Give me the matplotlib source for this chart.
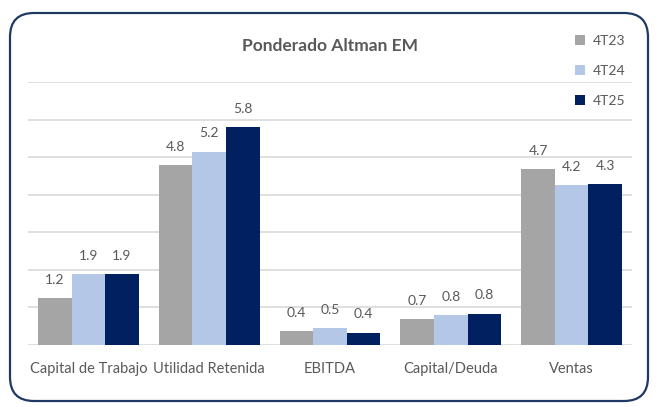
import matplotlib
matplotlib.use('Agg')
import numpy as np
import matplotlib.pyplot as plt
from matplotlib.patches import FancyBboxPatch

categories = ['Capital de Trabajo', 'Utilidad Retenida', 'EBITDA', 'Capital/Deuda', 'Ventas']
series = ['4T23', '4T24', '4T25']
v_4t23 = [1.2, 4.8, 0.4, 0.7, 4.7]
v_4t24 = [1.9, 5.2, 0.5, 0.8, 4.2]
v_4t25 = [1.9, 5.8, 0.4, 0.8, 4.3]
# heights as drawn (labels are rounded)
h_4t23 = [1.24, 4.78, 0.36, 0.68, 4.68]
h_4t24 = [1.88, 5.15, 0.45, 0.8, 4.25]
h_4t25 = [1.88, 5.8, 0.33, 0.83, 4.28]
colors = ['#A5A5A5', '#B4C7E7', '#002060']

plt.rcParams['font.family'] = ['Lato', 'DejaVu Sans']
txt = '#595959'

fig = plt.figure(figsize=(6.58, 4.07), dpi=100)

# rounded frame in pixel coords
bg = fig.add_axes([0, 0, 1, 1])
bg.set_xlim(0, 658)
bg.set_ylim(407, 0)
bg.axis('off')
bg.add_patch(FancyBboxPatch((10, 13), 638, 388, boxstyle='round,pad=0,rounding_size=24',
                            fc='white', ec='#1F3864', lw=1.6))

ax = fig.add_axes([28/658, 62/407, 604/658, 263/407])
ax.patch.set_alpha(0)
x = np.arange(len(categories))
w = 0.278
for i, (h, v) in enumerate([(h_4t23, v_4t23), (h_4t24, v_4t24), (h_4t25, v_4t25)]):
    bars = ax.bar(x + (i - 1) * w, h, w, color=colors[i], label=series[i], zorder=3)
    for b, val in zip(bars, v):
        ax.text(b.get_x() + b.get_width() / 2, b.get_height() + 0.33, f'{val:.1f}',
                ha='center', va='bottom', fontsize=10, color=txt)

ax.set_xlim(-0.5, len(categories) - 0.5)
ax.set_ylim(0, 7)
ax.set_yticks(np.arange(0, 8))
ax.yaxis.grid(True, color='#D9D9D9', lw=1.2, zorder=0)
ax.tick_params(axis='y', left=False, labelleft=False)
ax.tick_params(axis='x', bottom=False, labelsize=10.5, labelcolor=txt, pad=9)
ax.set_xticks(x)
ax.set_xticklabels(categories)
for s in ax.spines.values():
    s.set_visible(False)

fig.text(330/658, 1 - 46/407, 'Ponderado Altman EM', ha='center', va='center',
         fontsize=12.5, fontweight='bold', color=txt)

leg = ax.legend(loc='upper left', bbox_to_anchor=(568/658, 1 - 28/407), bbox_transform=fig.transFigure,
                frameon=False, fontsize=10, labelcolor=txt, handlelength=0.7, handleheight=0.7,
                handletextpad=0.6, labelspacing=1.3, borderpad=0)

fig.savefig('out.png', dpi=100)
